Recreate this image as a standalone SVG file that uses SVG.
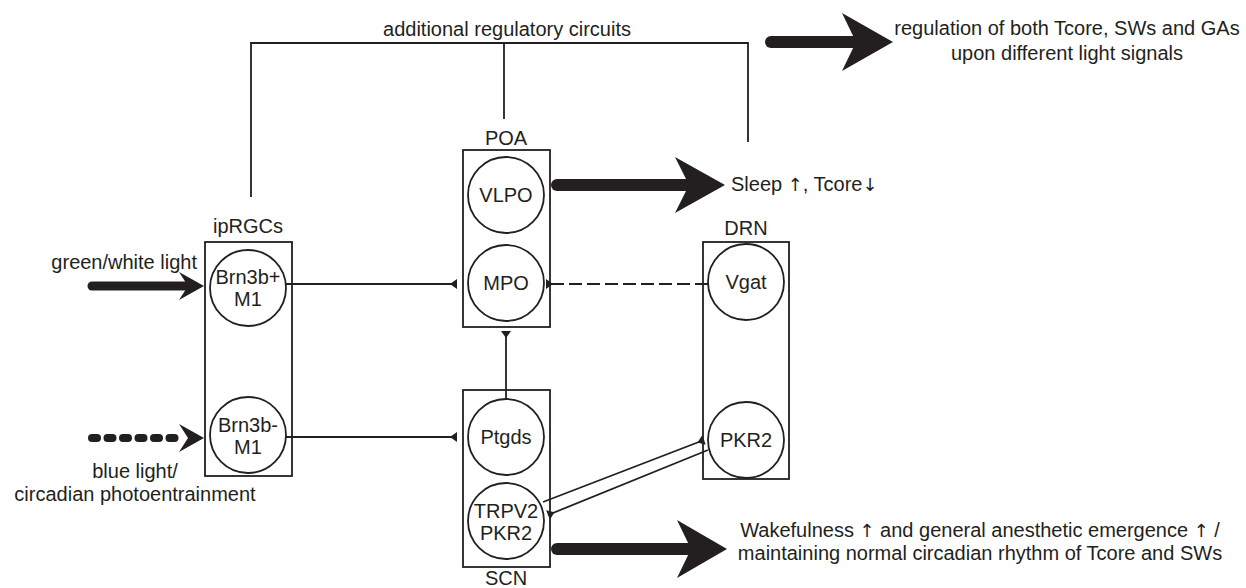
<svg xmlns="http://www.w3.org/2000/svg" width="1246" height="588" viewBox="0 0 1246 588">
<style>
  text { font-family: "Liberation Sans", Arial, sans-serif; font-size: 20px; fill: #231f20; }
  .c { text-anchor: middle; }
  .arr { font-family: "DejaVu Sans", sans-serif; font-size: 18px; }
  .box { fill: none; stroke: #231f20; stroke-width: 1.8; }
  .cell { fill: #ffffff; stroke: #231f20; stroke-width: 1.8; }
  .ln { fill: none; stroke: #231f20; stroke-width: 1.8; }
  .dash { stroke-dasharray: 13 5; }
  .shaft { fill: none; stroke: #231f20; stroke-width: 12; stroke-linecap: round; }
  .head { fill: #231f20; stroke: none; }
</style>
<defs>
  <marker id="tri" viewBox="-8 -6 10 12" refX="0" refY="0" markerWidth="10" markerHeight="12" markerUnits="userSpaceOnUse" orient="auto">
    <path d="M0,-5 L0,5 L-7,0 Z" fill="#231f20"/>
  </marker>
</defs>
<rect width="1246" height="588" fill="#ffffff"/>

<g id="connectors">
  <polyline class="ln" points="251,197 251,43 748,43 748,142"/>
  <line class="ln" x1="504" y1="43" x2="504" y2="119"/>
  <line class="ln" x1="286" y1="284" x2="457" y2="284" marker-end="url(#tri)"/>
  <line class="ln" x1="286" y1="437" x2="457" y2="437" marker-end="url(#tri)"/>
  <line class="ln" x1="506" y1="399" x2="506" y2="331" marker-end="url(#tri)"/>
  <line class="ln dash" x1="708" y1="284" x2="546" y2="284" marker-end="url(#tri)"/>
  <line class="ln" x1="543" y1="502" x2="704" y2="440" marker-end="url(#tri)"/>
  <line class="ln" x1="708" y1="450" x2="548" y2="515" marker-end="url(#tri)"/>
  <line x1="92" y1="286" x2="186" y2="286" stroke="#231f20" stroke-width="9" stroke-linecap="round"/>
  <polygon class="head" points="204,286 179,272 188,286 179,300"/>
  <line x1="92" y1="438" x2="184" y2="438" stroke="#231f20" stroke-width="8" stroke-linecap="round" stroke-dasharray="5 10.5"/>
  <polygon class="head" points="204,438 179,424 188,438 179,452"/>
  <line class="shaft" x1="557" y1="185" x2="690" y2="185"/>
  <polygon class="head" points="725,185 675,157 689,185 675,213"/>
  <line class="shaft" x1="557" y1="549" x2="692" y2="549"/>
  <polygon class="head" points="727,549 677,520 691,549 677,578"/>
  <line class="shaft" x1="771" y1="42" x2="857" y2="42"/>
  <polygon class="head" points="893,42 842,13 856,42 842,71"/>
</g>

<g id="ipRGCs">
  <rect class="box" x="205" y="242" width="87" height="234"/>
  <text class="c" x="248" y="233">ipRGCs</text>
</g>
<g id="Brn3b-plus-M1">
  <circle class="cell" cx="248" cy="288" r="38"/>
  <text class="c" x="248" y="284">Brn3b+</text>
  <text class="c" x="248" y="306">M1</text>
</g>
<g id="Brn3b-minus-M1">
  <circle class="cell" cx="248" cy="435" r="38"/>
  <text class="c" x="248" y="432">Brn3b-</text>
  <text class="c" x="248" y="454">M1</text>
</g>

<g id="POA">
  <rect class="box" x="463" y="150" width="87" height="177"/>
  <text class="c" x="506" y="145">POA</text>
</g>
<g id="VLPO">
  <circle class="cell" cx="506" cy="195" r="38"/>
  <text class="c" x="506" y="202">VLPO</text>
</g>
<g id="MPO">
  <circle class="cell" cx="506" cy="283" r="38"/>
  <text class="c" x="506" y="290">MPO</text>
</g>

<g id="SCN">
  <rect class="box" x="463" y="390" width="87" height="177"/>
  <text class="c" x="506" y="585">SCN</text>
</g>
<g id="Ptgds">
  <circle class="cell" cx="506" cy="437" r="38"/>
  <text class="c" x="506" y="444">Ptgds</text>
</g>
<g id="TRPV2-PKR2">
  <circle class="cell" cx="506" cy="521" r="38"/>
  <text class="c" x="506" y="518">TRPV2</text>
  <text class="c" x="506" y="540">PKR2</text>
</g>

<g id="DRN">
  <rect class="box" x="703" y="242" width="86" height="237"/>
  <text class="c" x="746" y="235">DRN</text>
</g>
<g id="Vgat">
  <circle class="cell" cx="746" cy="282" r="38"/>
  <text class="c" x="746" y="289">Vgat</text>
</g>
<g id="PKR2">
  <circle class="cell" cx="746" cy="440" r="38"/>
  <text class="c" x="746" y="447">PKR2</text>
</g>

<g id="labels">
  <text class="c" x="507" y="36">additional regulatory circuits</text>
  <text class="c" x="1067" y="35">regulation of both Tcore, SWs and GAs</text>
  <text class="c" x="1067" y="60">upon different light signals</text>
  <text x="731" y="191">Sleep <tspan class="arr">↑</tspan>, Tcore<tspan class="arr">↓</tspan></text>
  <text x="197" y="269" text-anchor="end">green/white light</text>
  <text class="c" x="135" y="478">blue light/</text>
  <text class="c" x="135" y="501">circadian photoentrainment</text>
  <text class="c" x="980" y="537">Wakefulness <tspan class="arr">↑</tspan> and general anesthetic emergence <tspan class="arr">↑</tspan> /</text>
  <text class="c" x="980" y="560">maintaining normal circadian rhythm of Tcore and SWs</text>
</g>
</svg>
